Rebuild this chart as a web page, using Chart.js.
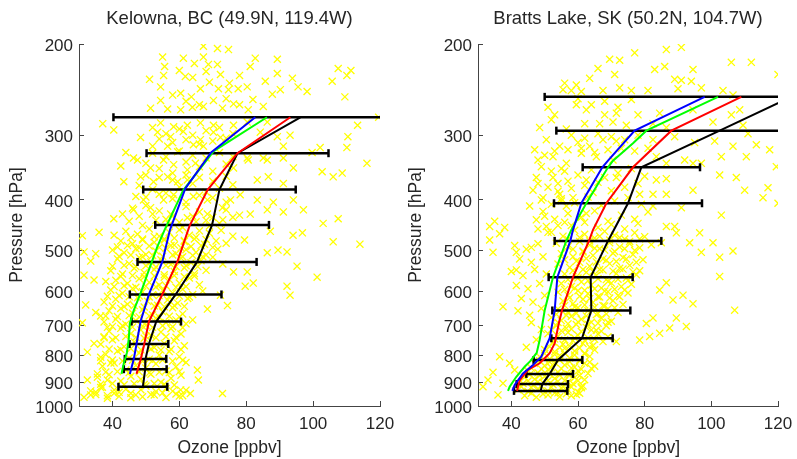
<!DOCTYPE html>
<html>
<head>
<meta charset="utf-8">
<title>Ozone profiles</title>
<script src="https://cdn.jsdelivr.net/npm/chart.js@4.4.1/dist/chart.umd.min.js"></script>
<style>
  html, body { margin: 0; padding: 0; background: #fff; }
  #wrap { position: relative; width: 797px; height: 459px; }
  canvas { position: absolute; top: 0; }
  #kelowna { left: 0; }
  #bratts { left: 399px; }
</style>
</head>
<body>
<div id="wrap">
  <canvas id="kelowna" width="399" height="459"></canvas>
  <canvas id="bratts" width="398" height="459"></canvas>
</div>
<script>
// OZONE PROFILE PANELS
const ozoneTicks = [40, 60, 80, 100, 120];
const pressureTicks = [200, 300, 400, 500, 600, 700, 800, 900, 1000];

// Kelowna sonde statistics (pressure hPa, mean and std in ppbv)
const kelownaLevels = [277, 325, 382, 447, 527, 609, 687, 759, 811, 849, 918];
const kelownaMean = [96.2, 77.4, 72.0, 69.8, 65.3, 58.9, 53.1, 50.9, 49.9, 49.8, 49.1];
const kelownaStd = [55.9, 27.2, 22.8, 17.0, 17.8, 13.7, 7.4, 5.8, 6.2, 6.4, 7.3];

// model profiles, [ozone, pressure]
const kelownaRed = [[93.2,277],[77.4,325],[68.5,382],[63,450],[59.4,527],[54.9,609],[50.9,687],[49.4,765],[48.4,815],[47.2,867]];
const kelownaBlue = [[82.7,277],[69.5,324],[61.8,380],[57.2,457],[54.9,527],[50.9,609],[48.4,687],[47.2,759],[46.4,811],[45.2,867]];
const kelownaGreen = [[86.2,277],[70.3,322],[61.2,383],[55.6,457],[53.4,493],[50.9,546],[48.4,606],[46.4,653],[45.2,692],[44.9,740],[44.3,790],[43.4,827],[42.7,867]];

// individual sonde measurements, [ozone, pressure]
const kelownaSondes = [
  [67.2,202],[71.4,204],[74.7,205],[55,212],[61.2,213],[67.2,212],[82.7,213],[89.3,214],[64.5,218],[55.6,221],[68.7,219],[71.4,219],[81.2,221],[107.5,223],[111.3,225],
  [60,225],[64,232],[68,226],[75,238],[78,230],
  [51.1,234],[55.3,230],[61.8,231],[69,237],[72.3,229],[85.7,236],[89.3,228],[93.8,233],[105.7,236],[110.1,230],
  [54.4,242],[58,251],[60.4,249],[63.6,253],[66.3,244],[71.7,244],[74.7,245],[77.6,244],[80.3,242],[87.8,250],[90.2,245],[95.5,242],[98.2,247],[109.5,253],
  [62,258],[66,262],[74,255],[78,262],[82,256],
  [51.4,266],[54.4,257],[56.5,267],[60.4,268],[63.9,265],[67.2,264],[70.2,257],[72.9,266],[76.2,261],[80.6,268],[85.1,264],
  [37.1,285],[40.4,293],[54.4,284],[58.3,289],[62.4,287],[66.3,284],[70.2,287],[76.2,287],[80.3,283],[86.3,283],[113.3,287],[119.6,277],
  [48.4,303],[53.5,296],[57.4,302],[61.2,295],[66.3,306],[70.2,296],[72.3,303],[84.2,296],[89.3,302],[93.1,300],[110.4,302],[110.1,317],
  [44,324],[46.3,332],[52,315],[56.5,315],[59.5,323],[64.2,313],[67.2,315],[80.3,332],[85.1,332],[91.1,315],[99.7,324],[102.1,317],[116.1,340],
  [42.5,344],[47.5,335],[51.4,347],[55.3,335],[58.3,342],[62.4,350],[64.8,340],[76.2,347],[80.6,335],[86.3,335],[91.1,332],[94.1,347],[102.7,353],[108.7,355],
  [43.4,369],[48.4,361],[52.3,369],[56.5,361],[59.5,369],[62.4,366],[83.3,366],[86.6,361],[91.1,372],[106,361],
  [47,394],[49.3,400],[55.3,400],[58.3,391],[64.2,394],[68.4,400],[75.3,400],[78.2,391],[83.3,400],[88.1,404],[94.1,400],[97.1,418],
  [40.4,435],[43,426],[46.3,418],[51.4,414],[57.4,426],[62.4,433],[68.4,426],[72.9,414],[81.2,426],[86.3,418],[91.1,422],[103,444],[107.5,435],
  [52,290],[56,298],[60,292],[64,300],[68,294],[72,290],[76,298],
  [54,305],[58,310],[62,306],[66,312],[70,308],[74,304],
  [52,325],[56,330],[60,322],[64,328],[68,332],[72,324],[76,330],
  [50,340],[54,348],[58,355],[62,338],[66,345],[70,352],[74,341],
  [50,358],[54,362],[58,366],[62,358],[66,362],[70,368],[74,360],
  [48,375],[52,382],[56,388],[60,378],[64,372],[68,386],[72,380],[76,374],
  [50,395],[54,390],[58,398],[62,404],[66,392],[70,396],[74,404],
  [46,415],[50,410],[54,420],[58,430],[62,412],[66,422],[70,432],[74,418],[78,428],
  [48,430],[52,426],[56,436],[60,442],[64,430],[68,438],[72,444],[76,432],
  [45,440],[49,448],[53,438],[57,446],[61,452],[65,441],[69,449],[73,437],
  [44,460],[47.5,466],[51,455],[54,470],[57,462],[60,457],[63,468],[66,459],[69,464],[72.5,458],[76,470],[40.5,468],[36,462],
  [45.5,473],[49,478],[52.5,471],[55.5,476],[58.5,474],[61.5,479],[65,472],[68,477],
  [42.5,480],[46,486],[49,476],[52.5,483],[55.5,478],[58.5,489],[61.5,481],[64.5,476],[67.5,487],[71,480],[74,485],[79.5,478],
  [41.5,493],[44.5,490],[48,495],[51,491],[54,494],[57.5,490],[60.5,495],[63.5,492],[66.5,490],[70,494],
  [40,500],[43.5,506],[47,497],[50,510],[53,502],[56,496],[59,508],[62,499],[65,505],[68,511],[71.5,498],[35,508],
  [42,514],[45.5,511],[49,515],[52,512],[55,514],[58,511],[61,515],[64,512],[67,515],
  [41.5,520],[45,531],[48,517],[51.5,527],[54.5,522],[57.5,533],[60.5,518],[63.5,529],[66.5,524],[70,516],[73,532],
  [40,537],[43.5,535],[47,538],[50,536],[53,539],[56,535],[59,538],[62,536],[65.5,538],
  [39.5,548],[43,556],[46.5,542],[49.5,553],[52.5,545],[55.5,558],[58.5,550],[61.5,541],[64.5,555],[68,547],
  [42.5,562],[46,560],[49.5,563],[52.5,561],[55.5,564],[58.5,560],[61.5,563],[64.5,561],
  [41,572],[44.5,580],[48,568],[51,577],[54,584],[57,570],[60,579],[63,566],[66,583],[38,575],
  [40.5,588],[43.5,586],[47,590],[50,587],[53,589],[56,586],[59,590],[62,588],
  [39.5,597],[43,606],[46,593],[49,602],[52,610],[55,598],[58,605],[61,595],[64,609],[67,600],
  [38.5,614],[42,612],[45,615],[48,613],[51,616],[54,612],[57,615],[60,613],[63,616],
  [37.5,630],[41,622],[44.5,636],[47.5,618],[50.5,628],[53.5,639],[56.5,624],[59.5,633],[62.5,620],
  [40,641],[43.5,643],[46.5,640],[49.5,644],[52.5,641],[55.5,643],[58.5,640],[61.5,642],
  [39,655],[42.5,648],[46,662],[49,652],[52,667],[55,658],[58,646],[61,664],[35,660],
  [38,670],[41.5,672],[45,669],[48,673],[51,670],[54,674],[57,671],[60,673],
  [37.5,688],[41,680],[44,695],[47,684],[50,698],[53,677],[56,690],[59,682],[62,694],
  [40,702],[43,700],[46,704],[49,701],[52,705],[55,700],[58,703],[61,706],
  [39,717],[42.5,708],[45.5,725],[48.5,713],[51.5,730],[54.5,720],[57.5,709],[60.5,726],
  [37.5,735],[41,738],[44,734],[47,737],[50,733],[53,738],[56,735],[59,737],
  [36.5,760],[40,745],[43.5,768],[46.5,752],[49.5,740],[52.5,771],[55.5,757],[58.5,748],[61.5,765],
  [39,776],[42.5,778],[45.5,775],[48.5,779],[51.5,776],[54.5,780],[57.5,777],[60.5,778],
  [38,795],[41.5,783],[45,808],[48,790],[51,812],[54,797],[57,785],[60,803],
  [36.5,818],[40,815],[43,819],[46,816],[49,820],[52,817],[55,815],[58,819],[61,816],
  [37,838],[40.5,826],[44,852],[47,835],[50,845],[53,829],[56,856],[59,840],[62,824],
  [38,860],[41.5,858],[45,862],[48,859],[51,863],[54,860],[57,862],[60,858],
  [35.5,880],[39,870],[42.5,895],[45.5,876],[48.5,888],[51.5,868],[54.5,900],[57.5,884],[60.5,872],
  [36.5,908],[40,905],[43.5,910],[46.5,906],[49.5,909],[52.5,905],[55.5,908],[58.5,911],
  [33.5,935],[37,920],[40.5,945],[44,928],[47,952],[50,915],[53,938],[56,925],[59,948],[62,932],
  [35,950],[38.5,955],[42,941],[45.5,945],[48.5,930],[51.5,950],[55,943],[58,936],[61,955],
  [31.5,962],[35,940],[38.5,966],[42,958],[45.5,964],[49,960],[52.5,952],[56,963],[60,957],
  [31,469],[31.5,504],[33.5,525],[31.5,559],[34.5,571],[32,638],[31,691],[36.5,670],[38.5,705],[37.5,738],
  [34.5,757],[32.5,787],[36.5,805],[39.5,826],[33.5,952],[36.5,921],[38.5,891],[40.5,931],[35.5,867],[32.5,891],
  [87.2,460],[94,468],[96.8,463],[106,482],[114,487],[86.3,506],[89.5,500],[92.2,504],[95.2,537],[101.2,564],
  [92.2,587],[93.1,611],[72.9,946],[65.4,852],[65.7,891],[63.3,946],[60.4,931],[80.3,551],[79.7,587],[82.1,579],
  [76.2,551],[72.3,611],[74.4,640],[68.4,650],[64,682]
];

// Bratts Lake sonde statistics
const brattsLevels = [253, 294, 346, 406, 480, 564, 654, 740, 815, 867, 907, 935];
const brattsMean = [124, 102.5, 79, 75, 69, 63.8, 64, 61.2, 54, 51.5, 49.3, 48.8];
const brattsStd = [74, 49, 17.6, 22.2, 16, 12.6, 11.7, 9.2, 7.3, 7, 7.7, 8];

const brattsRed = [[109,253],[88,294],[76.5,346],[68.5,406],[64.5,457],[63.3,480],[58.5,564],[55.2,654],[54.3,690],[53,757],[51.5,791],[48.5,827],[45,852],[42.5,892],[41.7,935]];
const brattsBlue = [[98,253],[77,294],[69,336],[67.3,346],[61,406],[58.5,457],[57.7,480],[53.8,564],[53,654],[51.5,740],[49,803],[46.5,833],[43.5,865],[41,911],[40.3,935]];
const brattsGreen = [[102,253],[80.5,294],[76.5,311],[70.5,336],[69,346],[62.5,406],[58,457],[56.5,480],[52.5,564],[50,654],[48.5,746],[47.6,790],[45.6,820],[44,840],[41.5,878],[39.5,918],[39,935]];

const brattsSondes = [
  [77,208],[86.5,205],[91,203],[69.5,214],[72.5,215],[106,217],[112,217],[66,223],[71,229],[83,224],[86,221],[94.5,224],
  [63.5,233],[56,238],[59.5,240],[89,234],[91,235],[94,236],[120,229],
  [55.5,245],[58,246],[61,247],[67.5,246],[72.5,243],[76,246],[81,246],[90,244],[97,243],[103.5,246],[106.5,251],
  [60,255],[64,262],[68,258],[72,265],[76,256],
  [51,265],[53,274],[59.5,262],[62.5,268],[68,274],[71.5,272],[78,274],[84.5,272],[94.5,268],[106,274],[108.5,268],
  [48.5,290],[52,280],[56.5,292],[62,285],[66.5,285],[70.5,283],[74.5,287],[82.5,285],[86.5,290],[100.5,283],[109.5,287],
  [111,298],[113.5,313],[117.5,320],
  [58,300],[62,304],[66,298],[70,302],[74,306],[78,300],
  [50.5,306],[54.5,315],[60,310],[63.5,315],[67.5,306],[71.5,308],[82.5,306],[89,302],[95,310],[101,308],[106.5,315],
  [57,320],[61,318],[65,324],[69,320],[73,318],[77,322],[81,318],
  [47,320],[50,328],[53,322],[49,345],[52,352],[55,348],[48,372],[51,378],[54,385],[57,368],
  [49,400],[52,408],[55,402],[50,430],[53,436],[56,442],[48,455],[51,462],[54,448],
  [48,335],[52.5,330],[56.5,340],[61,325],[65.5,330],[70.5,335],[83.5,330],[86.5,340],[92,335],[97,340],[103,330],[110.5,330],
  [47.5,362],[52.5,362],[62.5,366],[71.5,362],[83.5,366],[86.5,364],[94.5,340],[102.5,358],[107.5,362],[119.5,345],[117,379],
  [46.5,383],[49.5,396],[54.5,390],[58.5,396],[64.5,387],[78.5,390],[82.5,390],[86.5,390],[94.5,383],[110,383],[115.5,396],[120,406],
  [45.5,411],[49.5,421],[56.5,411],[62.5,425],[82.5,411],[91,414],[103,428],
  [33.5,450],[47.5,437],[50.5,450],[86.5,450],[89,450],[35,440],[38,452],[36.5,465],
  [56,352],[60,358],[64,350],[68,362],[72,355],[76,348],[80,360],
  [54,372],[58,380],[62,375],[66,370],[70,384],[74,378],[78,372],
  [55,398],[59,405],[63,395],[67,410],[71,402],[75,396],[79,408],
  [57,425],[61,432],[65,420],[69,440],[73,428],[77,436],[81,422],
  [58,448],[62,442],[66,452],[70,446],[74,455],[78,444],
  [52,462],[55.5,470],[59,458],[62,466],[65,474],[68,460],[71,468],[74,476],[77,463],[80,471],
  [57,477],[60.5,473],[63.5,480],[66.5,470],[69.5,478],[72.5,473],[75.5,481],[78.5,476],
  [53.5,485],[57,492],[60.5,481],[63.5,489],[66.5,497],[69.5,484],[72.5,493],[75.5,486],[78.5,495],[82,488],
  [58.5,498],[61.5,502],[65,496],[68,500],[71,503],[74,497],[77,501],
  [55,508],[58.5,515],[61.5,504],[64.5,512],[67.5,520],[70.5,507],[73.5,517],[76.5,510],[79.5,522],
  [56,522],[59.5,525],[62.5,519],[65.5,527],[68.5,523],[71.5,526],[74.5,520],[77.5,528],
  [54,532],[57.5,540],[60.5,528],[63.5,537],[66.5,545],[69.5,531],[72.5,542],[75.5,535],[78.5,548],
  [58.5,548],[61.5,545],[64.5,550],[67.5,546],[70.5,549],[73.5,544],[76.5,551],
  [56,556],[59.5,563],[62.5,552],[65.5,560],[68.5,570],[71.5,555],[74.5,566],[77.5,558],
  [57,570],[60,566],[63,573],[66,568],[69,575],[72,569],[75,572],
  [41,490],[44.5,498],[48,486],[42.5,520],[46,528],[49.5,515],[40,550],[43.5,560],[47,545],[50.5,556],
  [41.5,585],[45,594],[48.5,580],[43,620],[46.5,630],[50,612],[42,655],[45.5,668],[49,648],
  [55,580],[58,588],[61,576],[64,584],[67,592],[70,579],[73,588],[76,582],
  [56,596],[59,592],[62,598],[65,594],[68,600],[71,595],[74,597],
  [54,603],[57,611],[60,599],[63,607],[66,615],[69,602],[72,612],[75,605],
  [57.5,618],[60.5,614],[63.5,620],[66.5,616],[69.5,619],[72.5,615],
  [55.5,627],[58.5,635],[61.5,622],[64.5,631],[67.5,640],[70.5,626],[73.5,637],
  [56,640],[59,644],[62,638],[65,645],[68,641],[71,646],
  [54,650],[57,658],[60,646],[63,655],[66,663],[69,649],[72,660],
  [53.5,665],[56.5,668],[59.5,662],[62.5,670],[65.5,666],[68.5,664],
  [52,675],[55,684],[58,671],[61,680],[64,689],[67,676],[70,686],
  [54,690],[57,694],[60,688],[63,695],[66,692],[69,689],
  [53.5,700],[56.5,708],[59.5,696],[62.5,705],[65.5,714],[68.5,700],
  [52,712],[55,716],[58,710],[61,718],[64,713],[67,717],
  [51,725],[54,734],[57,721],[60,730],[63,739],[66,726],[69,735],
  [53,742],[56,745],[59,739],[62,747],[65,743],
  [52.5,752],[55.5,760],[58.5,748],[61.5,757],[64.5,765],[67.5,751],
  [51.5,768],[54.5,771],[57.5,766],[60.5,773],[63.5,769],
  [46,690],[49,712],[47.5,745],[44.5,770],
  [50,778],[53,786],[56,774],[59,783],[62,791],[65,779],
  [50,792],[53,795],[56,790],[59,797],[62,793],
  [48.5,803],[51.5,811],[54.5,799],[57.5,808],[60.5,816],[63.5,802],
  [48.5,818],[51.5,822],[54.5,816],[57.5,821],[60.5,819],[63.5,823],
  [47,828],[50,836],[53,824],[56,833],[59,841],[62,827],[65,838],
  [46,845],[49,848],[52,843],[55,847],[58,845],[61,849],[64,846],
  [45,855],[48,863],[51,851],[54,860],[57,868],[60,856],[63,865],
  [45.5,870],[48.5,873],[51.5,868],[54.5,872],[57.5,870],[60.5,874],
  [44,880],[47,888],[50,876],[53,885],[56,893],[59,881],[62,890],
  [45,895],[48,898],[51,893],[54,896],[57,899],[60,894],
  [43.5,905],[46.5,913],[49.5,901],[52.5,910],[55.5,918],[58.5,906],[61.5,915],
  [43,918],[46,921],[49,916],[52,920],[55,923],[58,919],[61,922],
  [42,930],[45,938],[48,926],[51,935],[54,943],[57,931],[60,940],
  [46,945],[49.5,948],[53,944],[56.5,947],[59.5,950],
  [44,955],[47.5,962],[51,952],[54.5,960],[58,955],
  [85,484],[89.5,463],[93.5,484],[96.5,463],[100.5,484],[97,505],[102.5,516],[106.5,502],[102.5,562],[86.5,578],
  [84.5,597],[88.5,624],[91.5,611],[94.5,635],[107,653],[89.5,676],[92.5,702],[87.5,707],[84.5,724],[81.5,734],
  [78.5,746],[71.5,751],[82.5,676],[80.5,693],
  [33.5,478],[34.5,505],[37.5,643],[41.5,505],[46,494],[41.5,546],[36.5,803],[34.5,861],[31.5,918],[33,891],
  [39.5,827],[41,852],[37.5,904],[36,952],[60.5,945],[61,918]
];

const textColor = '#262626';
const axisColor = '#444444';
const fontFamily = "'Liberation Sans', Arial, Helvetica, sans-serif";

function profileSet(points, color, width) {
  return {
    data: points.map(pt => ({ x: pt[0], y: pt[1] })),
    showLine: true,
    borderColor: color,
    borderWidth: width,
    pointRadius: 0
  };
}

function drawPanel(canvasId, title, sondes, levels, mean, std, red, blue, green) {
  const datasets = [];
  // first dataset ends up on top
  datasets.push(profileSet(blue, '#0000ff', 2));
  datasets.push(profileSet(green, '#00ff00', 2));
  datasets.push(profileSet(red, '#ff0000', 2));
  datasets.push(profileSet(levels.map((p, i) => [mean[i], p]), '#000000', 2));

  // error bars: +/- one std around the sonde mean
  levels.forEach((p, i) => {
    datasets.push({
      data: [{ x: mean[i] - std[i], y: p }, { x: mean[i] + std[i], y: p }],
      showLine: true,
      borderColor: '#000000',
      borderWidth: 2.5,
      pointStyle: 'line',
      pointRotation: 90,
      pointRadius: 4,
      pointBorderColor: '#000000',
      pointBorderWidth: 2.5
    });
  });

  datasets.push({
    data: sondes.map(pt => ({ x: pt[0], y: pt[1] })),
    showLine: false,
    pointStyle: 'crossRot',
    pointRadius: 5,
    pointBorderWidth: 1.3,
    pointBorderColor: '#ffff00',
    pointBackgroundColor: '#ffff00'
  });

  const ctx = document.getElementById(canvasId).getContext('2d');
  return new Chart(ctx, {
    type: 'scatter',
    data: { datasets: datasets },
    options: {
      responsive: false,
      animation: false,
      devicePixelRatio: 1,
      events: [],
      layout: { padding: { left: 0, right: 19, top: 0, bottom: 0 } },
      plugins: {
        legend: { display: false },
        tooltip: { enabled: false },
        title: {
          display: true,
          text: title,
          fullSize: false,
          color: textColor,
          font: { family: fontFamily, size: 18.5, weight: 'normal' },
          padding: { top: 8, bottom: 13.8 }
        }
      },
      scales: {
        x: {
          type: 'linear',
          min: 30,
          max: 120,
          afterBuildTicks: s => { s.ticks = ozoneTicks.map(v => ({ value: v })); },
          afterFit: s => { s.height = 53; s.paddingLeft = 0; s.paddingRight = 0; },
          grid: { display: true, drawOnChartArea: false, drawTicks: true, tickLength: -5, color: axisColor },
          border: { display: true, color: axisColor, width: 1 },
          ticks: {
            color: textColor,
            font: { family: fontFamily, size: 17 },
            padding: 13.5,
            autoSkip: false,
            maxRotation: 0,
            callback: v => String(v)
          },
          title: {
            display: true,
            text: 'Ozone [ppbv]',
            color: textColor,
            font: { family: fontFamily, size: 17.5 },
            padding: { top: 0, bottom: 0 }
          }
        },
        y: {
          type: 'logarithmic',
          reverse: true,
          min: 200,
          max: 1000,
          afterBuildTicks: s => { s.ticks = pressureTicks.map(v => ({ value: v })); },
          afterFit: s => { s.width = 79; s.paddingTop = 0; s.paddingBottom = 0; },
          grid: { display: true, drawOnChartArea: false, drawTicks: true, tickLength: -5, color: axisColor },
          border: { display: true, color: axisColor, width: 1 },
          ticks: {
            color: textColor,
            font: { family: fontFamily, size: 17 },
            padding: 11,
            labelOffset: 2,
            autoSkip: false,
            callback: v => String(v)
          },
          title: {
            display: true,
            text: 'Pressure [hPa]',
            color: textColor,
            font: { family: fontFamily, size: 17.5 },
            padding: { top: 6.5, bottom: 0 }
          }
        }
      }
    }
  });
}

drawPanel('kelowna', 'Kelowna, BC (49.9N, 119.4W)', kelownaSondes,
  kelownaLevels, kelownaMean, kelownaStd, kelownaRed, kelownaBlue, kelownaGreen);
drawPanel('bratts', 'Bratts Lake, SK (50.2N, 104.7W)', brattsSondes,
  brattsLevels, brattsMean, brattsStd, brattsRed, brattsBlue, brattsGreen);
</script>
</body>
</html>
